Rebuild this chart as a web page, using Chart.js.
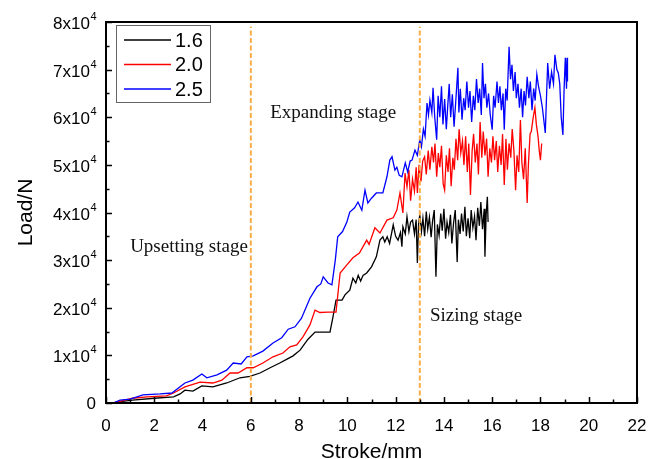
<!DOCTYPE html>
<html>
<head>
<meta charset="utf-8">
<script src="https://cdn.jsdelivr.net/npm/chart.js@4.4.1/dist/chart.umd.min.js"></script>
<style>
  html, body { margin: 0; padding: 0; background: #ffffff; }
  #wrap { width: 657px; height: 459px; position: relative; }
</style>
</head>
<body>
<div id="wrap"><canvas id="chart"></canvas></div>
<script>
// ===== Data (stroke in mm, load in N) =====
var seriesLabels = ["1.6", "2.0", "2.5"];
var seriesColors = ["#000000", "#ff0000", "#0000ff"];

var strokeA = [0.3, 0.6, 1.1, 2.0, 2.8, 3.07, 3.27, 3.6, 3.97, 4.43, 5.0, 5.55, 5.96, 6.38, 6.8, 7.2, 7.5, 7.75, 8.04, 8.37, 8.66, 9.0, 9.28, 9.4, 9.53, 9.78, 9.9, 10.1, 10.23, 10.35, 10.45, 10.55, 10.65, 10.8, 11.0, 11.2, 11.35, 11.47, 11.55, 11.65, 11.75, 11.9, 12.0, 12.1, 12.2, 12.26, 12.3, 12.4, 12.47, 12.55, 12.62, 12.7, 12.78, 12.85, 12.9, 12.95, 13.0, 13.07, 13.13, 13.2, 13.27, 13.33, 13.4, 13.47, 13.53, 13.6, 13.67, 13.73, 13.8, 13.87, 13.93, 14.0, 14.07, 14.13, 14.2, 14.27, 14.33, 14.4, 14.47, 14.55, 14.6, 14.67, 14.73, 14.8, 14.87, 14.93, 15.0, 15.07, 15.13, 15.2, 15.27, 15.33, 15.4, 15.47, 15.53, 15.6, 15.67, 15.7, 15.75, 15.8, 15.83];
var loadA = [0, 300, 600, 1000, 1300, 1900, 2700, 2500, 3600, 3400, 4200, 5300, 5600, 6300, 7400, 8400, 9200, 9900, 11100, 13400, 14900, 14900, 14900, 18000, 21600, 21600, 22700, 23700, 26200, 25200, 26800, 25600, 26800, 27300, 28600, 30700, 34200, 34900, 33800, 34900, 33500, 37400, 35000, 34200, 35800, 32800, 37000, 35500, 39100, 36000, 38000, 38400, 35500, 38500, 29400, 37500, 39500, 36000, 38800, 35000, 40200, 36500, 39000, 34800, 38200, 40500, 26500, 37500, 35200, 39800, 36200, 40800, 34500, 38000, 35800, 39500, 33500, 37800, 40500, 29600, 38500, 35500, 39800, 36000, 41200, 35000, 38800, 34600, 40500, 36800, 39200, 34200, 41000, 37200, 42200, 36500, 40800, 30700, 39500, 43300, 38000];

var strokeB = [0.3, 0.7, 1.1, 1.7, 2.5, 2.8, 3.27, 3.9, 4.43, 4.8, 5.14, 5.47, 5.84, 6.1, 6.5, 6.92, 7.33, 7.62, 7.9, 8.16, 8.45, 8.66, 8.86, 9.2, 9.53, 9.7, 9.98, 10.23, 10.5, 10.8, 10.9, 11.14, 11.35, 11.64, 11.9, 12.05, 12.18, 12.3, 12.39, 12.47, 12.55, 12.62, 12.7, 12.78, 12.85, 12.9, 12.97, 13.05, 13.12, 13.2, 13.27, 13.35, 13.42, 13.5, 13.57, 13.63, 13.7, 13.77, 13.83, 13.9, 13.97, 14.03, 14.1, 14.17, 14.23, 14.3, 14.37, 14.43, 14.5, 14.57, 14.63, 14.7, 14.77, 14.83, 14.9, 14.97, 15.03, 15.1, 15.17, 15.23, 15.3, 15.37, 15.43, 15.5, 15.57, 15.63, 15.7, 15.77, 15.83, 15.9, 15.97, 16.03, 16.1, 16.17, 16.23, 16.3, 16.37, 16.43, 16.5, 16.57, 16.63, 16.7, 16.77, 16.83, 16.9, 16.97, 17.03, 17.1, 17.17, 17.23, 17.3, 17.37, 17.45, 17.5, 17.57, 17.62, 17.7, 17.77, 17.83, 17.9, 17.95, 18.0, 18.05];
var loadB = [0, 500, 1000, 1300, 1500, 2100, 3400, 4400, 4200, 4800, 6300, 6300, 7400, 7400, 8400, 9700, 10500, 11800, 12200, 13900, 16400, 19500, 19000, 19100, 19100, 27300, 29000, 30500, 31500, 34200, 33300, 36800, 35700, 38400, 38900, 40500, 44100, 39900, 48300, 45400, 48900, 42500, 47000, 44500, 49500, 44100, 50000, 46500, 50800, 51700, 48000, 53000, 49000, 53800, 50500, 54500, 47500, 52500, 49500, 54000, 46000, 44700, 52000, 48500, 53500, 45500, 51500, 49000, 55500, 51000, 57500, 52500, 55000, 50000, 56000, 48500, 54500, 43700, 53000, 56500, 50500, 54500, 48000, 59000, 51500, 57000, 52000, 55500, 47500, 53500, 50500, 56000, 51000, 55000, 48500, 54000, 50000, 56500, 45800, 55500, 49000, 54500, 51500, 57500, 53000, 44700, 52000, 48500, 59400, 50500, 47000, 53500, 42000, 50000, 56500, 57000, 60000, 62000, 58500, 56000, 53000, 51000, 54500];

var strokeC = [0.3, 0.58, 1.0, 1.53, 2.24, 2.73, 3.27, 3.6, 3.97, 4.18, 4.6, 5.0, 5.27, 5.6, 5.84, 6.1, 6.5, 6.92, 7.28, 7.55, 7.83, 8.1, 8.45, 8.74, 8.9, 9.0, 9.2, 9.36, 9.5, 9.6, 9.8, 9.98, 10.1, 10.3, 10.44, 10.55, 10.6, 10.73, 10.85, 11.0, 11.2, 11.47, 11.64, 11.76, 11.85, 11.97, 12.05, 12.15, 12.26, 12.4, 12.5, 12.6, 12.68, 12.8, 12.9, 13.0, 13.07, 13.15, 13.22, 13.3, 13.36, 13.42, 13.5, 13.55, 13.62, 13.7, 13.76, 13.83, 13.9, 13.96, 14.03, 14.1, 14.16, 14.22, 14.28, 14.35, 14.42, 14.48, 14.58, 14.62, 14.68, 14.75, 14.82, 14.88, 14.95, 15.02, 15.08, 15.15, 15.22, 15.28, 15.35, 15.42, 15.48, 15.55, 15.6, 15.66, 15.72, 15.78, 15.85, 15.92, 16.0, 16.06, 16.12, 16.2, 16.26, 16.32, 16.38, 16.45, 16.5, 16.56, 16.62, 16.7, 16.76, 16.82, 16.88, 16.95, 17.0, 17.07, 17.13, 17.2, 17.26, 17.32, 17.38, 17.45, 17.52, 17.58, 17.65, 17.72, 17.78, 17.85, 17.92, 18.0, 18.08, 18.2, 18.3, 18.38, 18.46, 18.54, 18.6, 18.68, 18.74, 18.8, 18.86, 18.93, 18.98, 19.03, 19.08, 19.1, 19.12];
var loadC = [0, 600, 800, 1700, 1900, 2100, 4200, 4800, 6100, 5300, 5900, 6900, 8400, 8200, 9700, 9900, 10900, 12600, 13700, 15500, 16000, 17800, 22000, 24400, 25000, 26500, 25200, 24800, 30000, 34900, 36000, 38000, 40100, 41000, 42200, 41000, 40500, 44700, 42000, 43000, 44100, 44100, 47500, 51000, 51700, 48900, 49500, 47800, 47500, 50400, 48500, 50800, 51000, 53100, 52000, 55300, 53800, 57500, 56000, 63000, 60500, 63600, 61000, 66200, 60000, 55300, 64500, 60000, 66500, 58500, 63800, 57500, 62500, 67000, 60000, 64800, 58000, 62500, 70400, 61000, 66000, 59500, 64000, 61500, 67500, 62000, 65500, 59000, 64500, 61500, 68000, 63000, 66000, 60500, 71400, 64000, 67000, 62000, 65000, 60500, 57400, 64500, 62000, 67500, 63000, 66500, 61500, 65000, 57400, 66000, 63500, 74800, 68000, 71000, 65500, 69500, 64000, 67000, 62000, 66000, 60000, 65500, 62500, 68500, 64000, 67500, 61500, 66000, 63500, 69000, 66500, 64500, 62000, 56700, 71400, 66000, 69500, 67000, 73100, 70000, 69300, 67000, 60000, 56300, 66000, 72500, 66000, 72500, 67500];

// Stage boundaries (stroke, mm) and stage labels
var stageBounds = [6, 13];
var stageLabels = ["Upsetting stage", "Expanding stage", "Sizing stage"];
var stageLabelX = [1.0, 6.8, 13.42];
var stageLabelY = [31800, 59800, 17200];

// Axis ticks
var xTicks = [0, 2, 4, 6, 8, 10, 12, 14, 16, 18, 20, 22];
var yTicks = [0, 10000, 20000, 30000, 40000, 50000, 60000, 70000, 80000];

// ===== Helpers =====
function zip(xs, ys) {
  var pts = [];
  for (var i = 0; i < xs.length; i++) pts.push({ x: xs[i], y: ys[i] });
  return pts;
}

var curves = [
  { label: seriesLabels[0], data: zip(strokeA, loadA), color: seriesColors[0] },
  { label: seriesLabels[1], data: zip(strokeB, loadB), color: seriesColors[1] },
  { label: seriesLabels[2], data: zip(strokeC, loadC), color: seriesColors[2] }
];

var datasets = [];
stageBounds.forEach(function(b) {
  datasets.push({
    label: "",
    data: [{ x: b, y: 0 }, { x: b, y: 79000 }],
    borderColor: "#f8ad45",
    borderWidth: 2,
    borderDash: [5, 2.5],
    pointRadius: 0,
    order: 0
  });
});
curves.forEach(function(c, i) {
  datasets.push({
    label: c.label,
    data: c.data,
    borderColor: c.color,
    borderWidth: 1.3,
    pointRadius: 0,
    tension: 0,
    order: 3 - i
  });
});

var SANS = "'Liberation Sans', Arial, sans-serif";

// ===== Plugins: frame with inward ticks, y labels with exponent, legend box, stage labels =====
var framePlugin = {
  id: "frame",
  afterDatasetsDraw: function(chart) {
    var ctx = chart.ctx, a = chart.chartArea;
    var xs = chart.scales.x, ys = chart.scales.y;
    ctx.save();
    ctx.strokeStyle = "#000";
    ctx.lineWidth = 2;
    ctx.strokeRect(a.left, a.top, a.right - a.left, a.bottom - a.top);
    ctx.lineWidth = 1.5;
    ctx.beginPath();
    for (var v = 0; v <= 22; v += 1) {
      var px = Math.round(xs.getPixelForValue(v)) + 0.5;
      var len = v % 2 === 0 ? 6 : 3.5;
      ctx.moveTo(px, a.bottom);
      ctx.lineTo(px, a.bottom - len);
    }
    for (var w = 0; w <= 80000; w += 5000) {
      var py = Math.round(ys.getPixelForValue(w)) + 0.5;
      var len2 = w % 10000 === 0 ? 6 : 3.5;
      ctx.moveTo(a.left, py);
      ctx.lineTo(a.left + len2, py);
    }
    ctx.stroke();

    // y tick labels: "Nx10" with a raised exponent
    ctx.fillStyle = "#000";
    ctx.textBaseline = "alphabetic";
    ctx.textAlign = "left";
    var right = a.left - 10;
    yTicks.forEach(function(t) {
      var py = ys.getPixelForValue(t);
      if (t === 0) {
        ctx.font = "17px " + SANS;
        ctx.textAlign = "right";
        ctx.fillText("0", right, py + 6);
        ctx.textAlign = "left";
        return;
      }
      var main = Math.round(t / 10000) + "x10";
      ctx.font = "11px " + SANS;
      var ew = ctx.measureText("4").width;
      ctx.font = "17px " + SANS;
      var mw = ctx.measureText(main).width;
      var x0 = right - ew - mw;
      ctx.fillText(main, x0, py + 7);
      ctx.font = "11px " + SANS;
      ctx.fillText("4", x0 + mw + 0.5, py - 2);
    });
    ctx.restore();
  }
};

var legendPlugin = {
  id: "boxLegend",
  afterDatasetsDraw: function(chart) {
    var ctx = chart.ctx, a = chart.chartArea;
    var x0 = a.left + 10, y0 = a.top + 3;
    ctx.save();
    ctx.fillStyle = "#fff";
    ctx.fillRect(x0, y0, 94, 77);
    ctx.strokeStyle = "#666";
    ctx.lineWidth = 1;
    ctx.strokeRect(x0 + 0.5, y0 + 0.5, 94, 77);
    ctx.font = "20px " + SANS;
    ctx.textBaseline = "middle";
    curves.forEach(function(c, i) {
      var yy = y0 + 15 + i * 24.5;
      ctx.strokeStyle = c.color;
      ctx.lineWidth = 1.3;
      ctx.beginPath();
      ctx.moveTo(x0 + 8, yy);
      ctx.lineTo(x0 + 55, yy);
      ctx.stroke();
      ctx.fillStyle = "#000";
      ctx.fillText(c.label, x0 + 59, yy + 1);
    });
    ctx.restore();
  }
};

var stageTextPlugin = {
  id: "stageText",
  afterDatasetsDraw: function(chart) {
    var ctx = chart.ctx;
    var xs = chart.scales.x, ys = chart.scales.y;
    ctx.save();
    ctx.font = "19px 'Liberation Serif', 'Times New Roman', serif";
    ctx.fillStyle = "#111";
    ctx.textAlign = "left";
    ctx.textBaseline = "alphabetic";
    stageLabels.forEach(function(t, i) {
      ctx.fillText(t, xs.getPixelForValue(stageLabelX[i]), ys.getPixelForValue(stageLabelY[i]));
    });
    ctx.restore();
  }
};

// ===== Chart =====
new Chart(document.getElementById("chart"), {
  type: "line",
  data: { datasets: datasets },
  plugins: [stageTextPlugin, framePlugin, legendPlugin],
  options: {
    responsive: true,
    maintainAspectRatio: false,
    animation: false,
    events: [],
    layout: { padding: { top: 22, right: 20, bottom: 0, left: 0 } },
    plugins: { legend: { display: false }, tooltip: { enabled: false } },
    scales: {
      x: {
        type: "linear",
        min: 0,
        max: 22,
        afterBuildTicks: function(s) { s.ticks = xTicks.map(function(v) { return { value: v }; }); },
        afterFit: function(s) { s.height = 56; },
        grid: { display: false },
        border: { display: false },
        ticks: {
          color: "#000",
          padding: 5,
          maxRotation: 0,
          font: { size: 17, family: SANS }
        },
        title: {
          display: true,
          text: "Stroke/mm",
          color: "#000",
          padding: { top: 0, bottom: -6 },
          font: { size: 21, family: SANS }
        }
      },
      y: {
        type: "linear",
        min: 0,
        max: 80000,
        afterBuildTicks: function(s) { s.ticks = yTicks.map(function(v) { return { value: v }; }); },
        afterFit: function(s) { s.width = 106; },
        grid: { display: false },
        border: { display: false },
        ticks: { display: false },
        title: {
          display: true,
          text: "Load/N",
          color: "#000",
          padding: { top: 14, bottom: 0 },
          font: { size: 21, family: SANS }
        }
      }
    }
  }
});
</script>
</body>
</html>
